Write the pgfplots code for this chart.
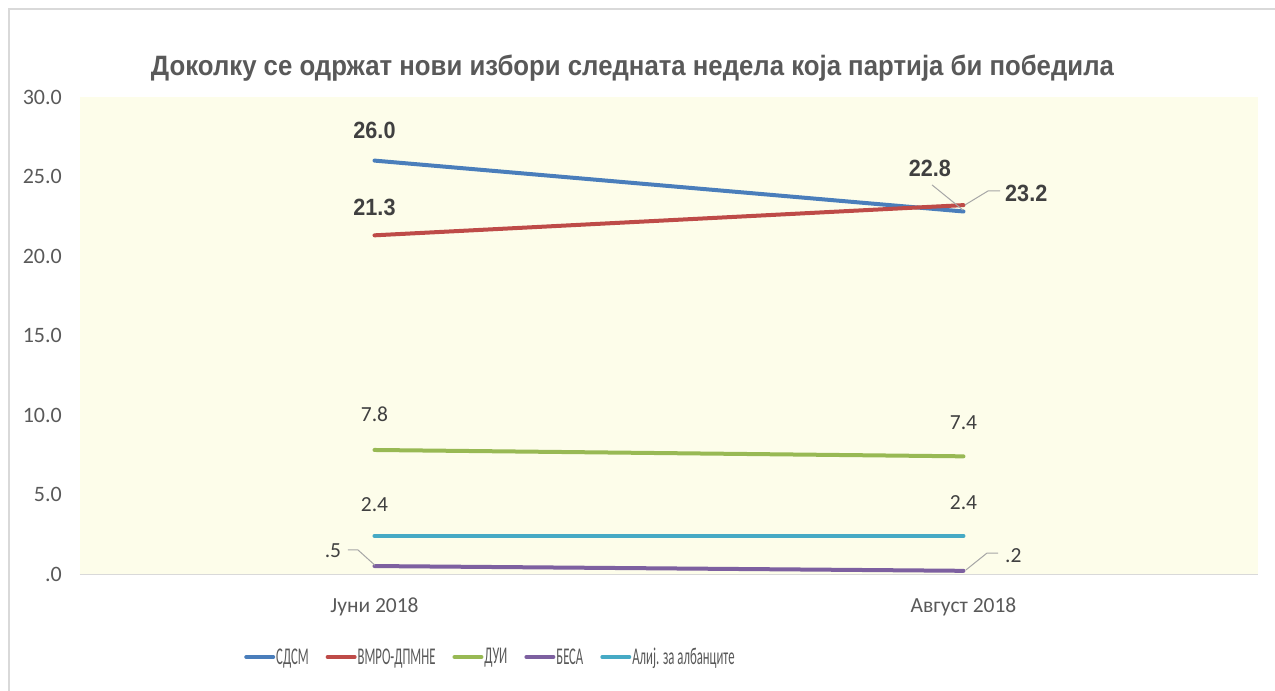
\documentclass[border=0pt]{standalone}
\usepackage{pgfplots}
\pgfplotsset{compat=1.18}
\usepackage{fontspec}
\setmainfont{Carlito}
\newfontfamily\titlefont[FakeStretch=0.92]{Liberation Sans}
\newfontfamily\legfont[FakeStretch=0.53]{Carlito}
\definecolor{cblue}{RGB}{74,126,187}
\definecolor{cred}{RGB}{190,75,72}
\definecolor{cgreen}{RGB}{152,185,84}
\definecolor{cpurple}{RGB}{125,96,160}
\definecolor{ccyan}{RGB}{70,170,197}
\definecolor{cream}{RGB}{253,253,234}
\definecolor{axisgray}{RGB}{217,217,217}
\definecolor{bordergray}{RGB}{217,217,217}
\definecolor{titlegray}{RGB}{89,89,89}
\definecolor{ticktext}{RGB}{89,89,89}
\definecolor{labgray}{RGB}{64,64,64}
\definecolor{leader}{RGB}{166,166,166}
\begin{document}
\begin{tikzpicture}
\useasboundingbox (0,0) rectangle (1275pt,691pt);
\draw[color=bordergray, line width=2pt] (9pt,-10pt) rectangle (1290pt,682pt);
\begin{axis}[
  at={(80pt,117pt)}, anchor=south west,
  scale only axis, width=1178pt, height=477pt,
  xmin=-0.5, xmax=1.5, ymin=0, ymax=30,
  xtick={0,1}, xticklabels={Јуни 2018, Август 2018},
  ytick={0,5,10,15,20,25,30}, yticklabels={.0,5.0,10.0,15.0,20.0,25.0,30.0},
  axis x line*=bottom, axis y line*=left,
  x axis line style={draw=axisgray, line width=1pt, -},
  y axis line style={draw=none, -},
  major tick length=0pt, tick style={draw=none},
  axis background/.style={fill=cream},
  clip=false,
  yticklabel style={font=\fontsize{22}{22}\selectfont, text=ticktext, inner sep=0pt, anchor=east, xshift=-18pt},
  xticklabel style={font=\fontsize{21.5}{21.5}\selectfont, text=ticktext, inner sep=0pt, anchor=base, yshift=-38pt},
  title={Доколку се одржат нови избори следната недела која партија би победила},
  title style={font=\titlefont\bfseries\fontsize{28}{28}\selectfont, text=titlegray, at={(0.469,1)}, anchor=base, yshift=15pt},
  legend columns=5,
  legend style={draw=none, fill=none, at={(0.1367,0)}, anchor=west, yshift=-83pt,
    font=\legfont\fontsize{24}{24}\selectfont, text=ticktext,
    nodes={inner sep=1pt},
    /tikz/every even column/.append style={column sep=16pt}},
  legend image code/.code={\draw[#1, line width=4pt, line cap=round] (2pt,0pt) -- (29pt,0pt);},
  every axis plot/.append style={line width=4pt, line cap=round, mark=none},
]
\addplot[color=cblue] coordinates {(0,26.0) (1,22.8)};
\addlegendentry{СДСМ}
\addplot[color=cred] coordinates {(0,21.3) (1,23.2)};
\addlegendentry{ВМРО-ДПМНЕ}
\addplot[color=cgreen] coordinates {(0,7.8) (1,7.4)};
\addlegendentry{ДУИ}
\addplot[color=cpurple] coordinates {(0,0.5) (1,0.2)};
\addlegendentry{БЕСА}
\addplot[color=ccyan] coordinates {(0,2.4) (1,2.4)};
\addlegendentry{Алиј. за албанците}

\tikzset{bl/.style={font=\titlefont\bfseries\fontsize{23.5}{23.5}\selectfont, text=labgray, inner sep=0pt},
         rl/.style={font=\fontsize{21.5}{21.5}\selectfont, text=labgray, inner sep=0pt}}
\node[bl] at (axis cs:0,27.9) {26.0};
\node[bl] at (axis cs:0,23.08) {21.3};
\node[bl] at (axis cs:0.943,25.53) {22.8};
\node[bl, anchor=west] at (axis cs:1.0705,23.96) {23.2};
\node[rl] at (axis cs:0,10.06) {7.8};
\node[rl] at (axis cs:1,9.5) {7.4};
\node[rl] at (axis cs:0,4.34) {2.4};
\node[rl] at (axis cs:1,4.47) {2.4};
\node[rl] at (axis cs:-0.0705,1.45) {.5};
\node[rl, anchor=west] at (axis cs:1.0705,1.13) {.2};
\draw[leader, line width=1pt] (axis cs:0.9466,24.47) -- (axis cs:0.9992,22.89);
\draw[leader, line width=1pt] (axis cs:1.0025,23.21) -- (axis cs:1.0416,24.09) -- (axis cs:1.062,24.09);
\draw[leader, line width=1pt] (axis cs:-0.045,1.51) -- (axis cs:-0.028,1.51) -- (axis cs:0.0008,0.55);
\draw[leader, line width=1pt] (axis cs:1.004,0.25) -- (axis cs:1.04,1.32) -- (axis cs:1.059,1.32);
\end{axis}
\end{tikzpicture}
\end{document}
